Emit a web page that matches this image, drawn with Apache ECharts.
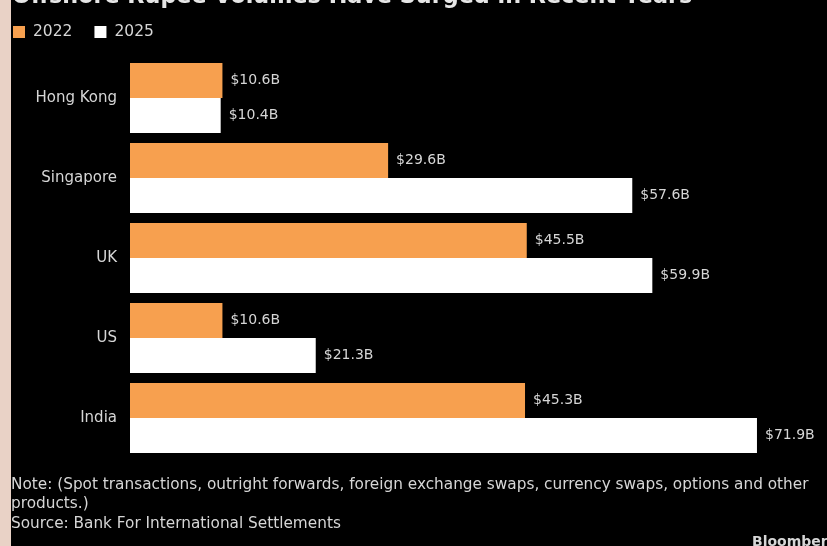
<!DOCTYPE html>
<html>
<head>
<meta charset="utf-8">
<script src="https://cdn.jsdelivr.net/npm/echarts@6/dist/echarts.min.js"></script>
<style>
  html, body { margin: 0; padding: 0; background: #000; }
  #chart { width: 827px; height: 546px; }
</style>
</head>
<body>
<div id="chart"></div>
<script>
// values, in $ billions
const regions = ['Hong Kong', 'Singapore', 'UK', 'US', 'India'];
const vol2022 = [10.6, 29.6, 45.5, 10.6, 45.3];
const vol2025 = [10.4, 57.6, 59.9, 21.3, 71.9];
const seriesNames = ['2022', '2025'];

const FONT = '"DejaVu Sans", sans-serif';
const textColor = '#d6d6d6';

let chart = echarts.init(document.getElementById('chart'));

function barSeries(name, data, color) {
  return {
    name: name,
    type: 'bar',
    data: data,
    barWidth: 35,
    barGap: '0%',
    itemStyle: { color: color },
    label: {
      show: true,
      position: 'right',
      distance: 8,
      color: textColor,
      fontFamily: FONT,
      fontSize: 14,
      formatter: p => '$' + p.value.toFixed(1) + 'B'
    }
  };
}

chart.setOption({
  backgroundColor: '#000',
  animation: false,
  grid: {
    left: 130,
    top: 58,
    width: 654,
    height: 400
  },
  legend: {
    data: seriesNames,
    left: 8,
    top: 19,
    itemWidth: 12,
    itemHeight: 12,
    itemGap: 22,
    icon: 'rect',
    textStyle: { color: textColor, fontFamily: FONT, fontSize: 15.5, padding: [0, 0, 0, 3] }
  },
  xAxis: {
    type: 'value',
    min: 0,
    max: 75,
    show: false
  },
  yAxis: {
    type: 'category',
    data: regions,
    inverse: true,
    axisLine: { show: false },
    axisTick: { show: false },
    axisLabel: {
      color: textColor,
      fontFamily: FONT,
      fontSize: 15,
      margin: 13
    }
  },
  series: [
    barSeries(seriesNames[0], vol2022, '#f7a04f'),
    barSeries(seriesNames[1], vol2025, '#ffffff')
  ],
  graphic: [
    { type: 'rect', left: 0, top: 0, shape: { width: 11, height: 546 }, style: { fill: '#e9d2c6' } },
    {
      type: 'text', left: 12, top: -14,
      style: {
        text: 'Offshore Rupee Volumes Have Surged in Recent Years',
        fill: '#e6e6e6', font: 'bold 22.3px ' + FONT
      }
    },
    {
      type: 'text', left: 11, top: 475,
      style: {
        text: 'Note: (Spot transactions, outright forwards, foreign exchange swaps, currency swaps, options and other\nproducts.)\nSource: Bank For International Settlements',
        fill: textColor, font: '15.3px ' + FONT, lineHeight: 19.5
      }
    },
    {
      type: 'text', left: 752, top: 535,
      style: { text: 'Bloomberg', fill: textColor, font: 'bold 14px ' + FONT }
    }
  ]
});
</script>
</body>
</html>
